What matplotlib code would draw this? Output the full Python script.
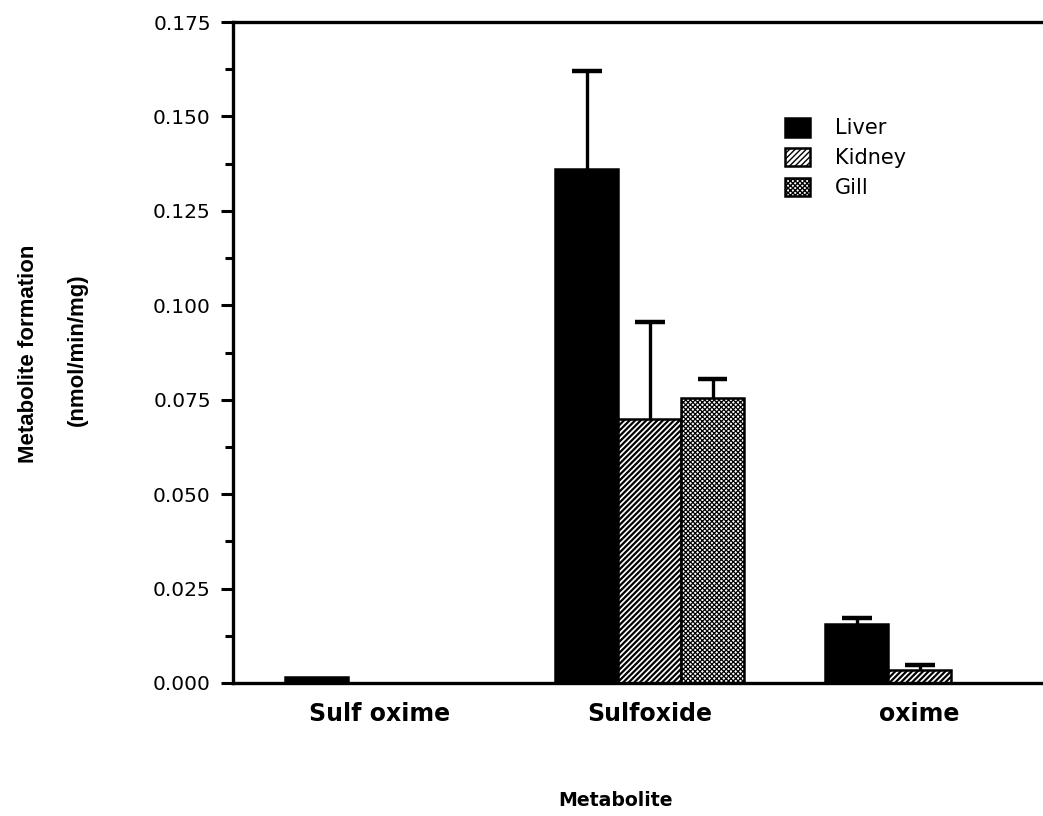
import matplotlib
matplotlib.use("Agg")
import matplotlib.pyplot as plt
import numpy as np

# Metabolite formation (nmol/min/mg) by tissue
metabolites = ["Sulf oxime", "Sulfoxide", "oxime"]
tissues = ["Liver", "Kidney", "Gill"]
liver = [0.0015, 0.136, 0.0155]
kidney = [0.0, 0.0700, 0.0035]
gill = [0.0, 0.0755, 0.0]
liver_err = [0.0, 0.026, 0.0017]
kidney_err = [0.0, 0.0255, 0.0013]
gill_err = [0.0, 0.005, 0.0]
yticks = [0.000, 0.025, 0.050, 0.075, 0.100, 0.125, 0.150, 0.175]

fig = plt.figure(figsize=(10.43, 8.16), dpi=100)
ax = fig.add_axes([0.2234, 0.163, 0.8137, 0.810])

x = np.arange(len(metabolites))
w = 0.233
cap_half = 0.055
series = [
    (liver, liver_err, "black", None, 1.0),
    (kidney, kidney_err, "white", "//////", 1.6),
    (gill, gill_err, "white", "xxxxxxx", 0.9),
]
for k, (vals, errs, color, hatch, hlw) in enumerate(series):
    pos = x + (k - 1) * w
    with plt.rc_context({"hatch.linewidth": hlw}):
        bars = ax.bar(pos, vals, width=w, color=color, edgecolor="black",
                      linewidth=1.8, hatch=hatch, label=tissues[k], zorder=2)
    for b in bars:
        if hasattr(b, "set_hatch_linewidth"):
            b.set_hatch_linewidth(hlw)
    v = np.array(vals)
    e = np.array(errs)
    m = e > 0
    # upper-only error bars: stem from bar top plus a cap
    ax.vlines(pos[m], v[m], v[m] + e[m], color="black", linewidth=2.4,
              zorder=3)
    ax.hlines(v[m] + e[m], pos[m] - cap_half, pos[m] + cap_half,
              color="black", linewidth=3.2, zorder=3)

ax.set_xlim(-0.543, 2.6)
ax.set_ylim(0, 0.175)
ax.set_yticks(yticks)
ax.set_yticklabels([f"{t:.3f}" for t in yticks])
ax.set_yticks(np.arange(0.0125, 0.175, 0.025), minor=True)
ax.set_xticks(x)
ax.set_xticklabels(metabolites, fontfamily="DejaVu Sans", fontweight="bold",
                   fontsize=17)
ax.tick_params(axis="x", length=0, pad=14)
ax.tick_params(axis="y", which="major", length=9, width=2.2, pad=7,
               labelsize=14.5)
ax.tick_params(axis="y", which="minor", length=6, width=2.2)
for t in ax.get_yticklabels():
    t.set_fontfamily("DejaVu Sans")

for s in ax.spines.values():
    s.set_linewidth(2.4)

leg = ax.legend(loc="upper left", bbox_to_anchor=(785 / 1043, 1 - 118 / 816),
                bbox_transform=fig.transFigure, frameon=False,
                prop={"family": "DejaVu Sans", "size": 15},
                handlelength=1.2, handleheight=1.0, labelspacing=0.45,
                handletextpad=1.2, borderpad=0, borderaxespad=0)

fig.text(29 / 1043, 1 - 354 / 816, "Metabolite formation", rotation=90,
         ha="center", va="center", fontfamily="Liberation Sans",
         fontweight="bold", fontsize=16)
fig.text(77 / 1043, 1 - 350 / 816, "(nmol/min/mg)", rotation=90,
         ha="center", va="center", fontfamily="Liberation Sans",
         fontweight="bold", fontsize=16)
fig.text(616 / 1043, 1 - 800 / 816, "Metabolite", ha="center", va="center",
         fontfamily="DejaVu Sans", fontweight="bold", fontsize=13.6)

fig.savefig("out.png", dpi=100)
